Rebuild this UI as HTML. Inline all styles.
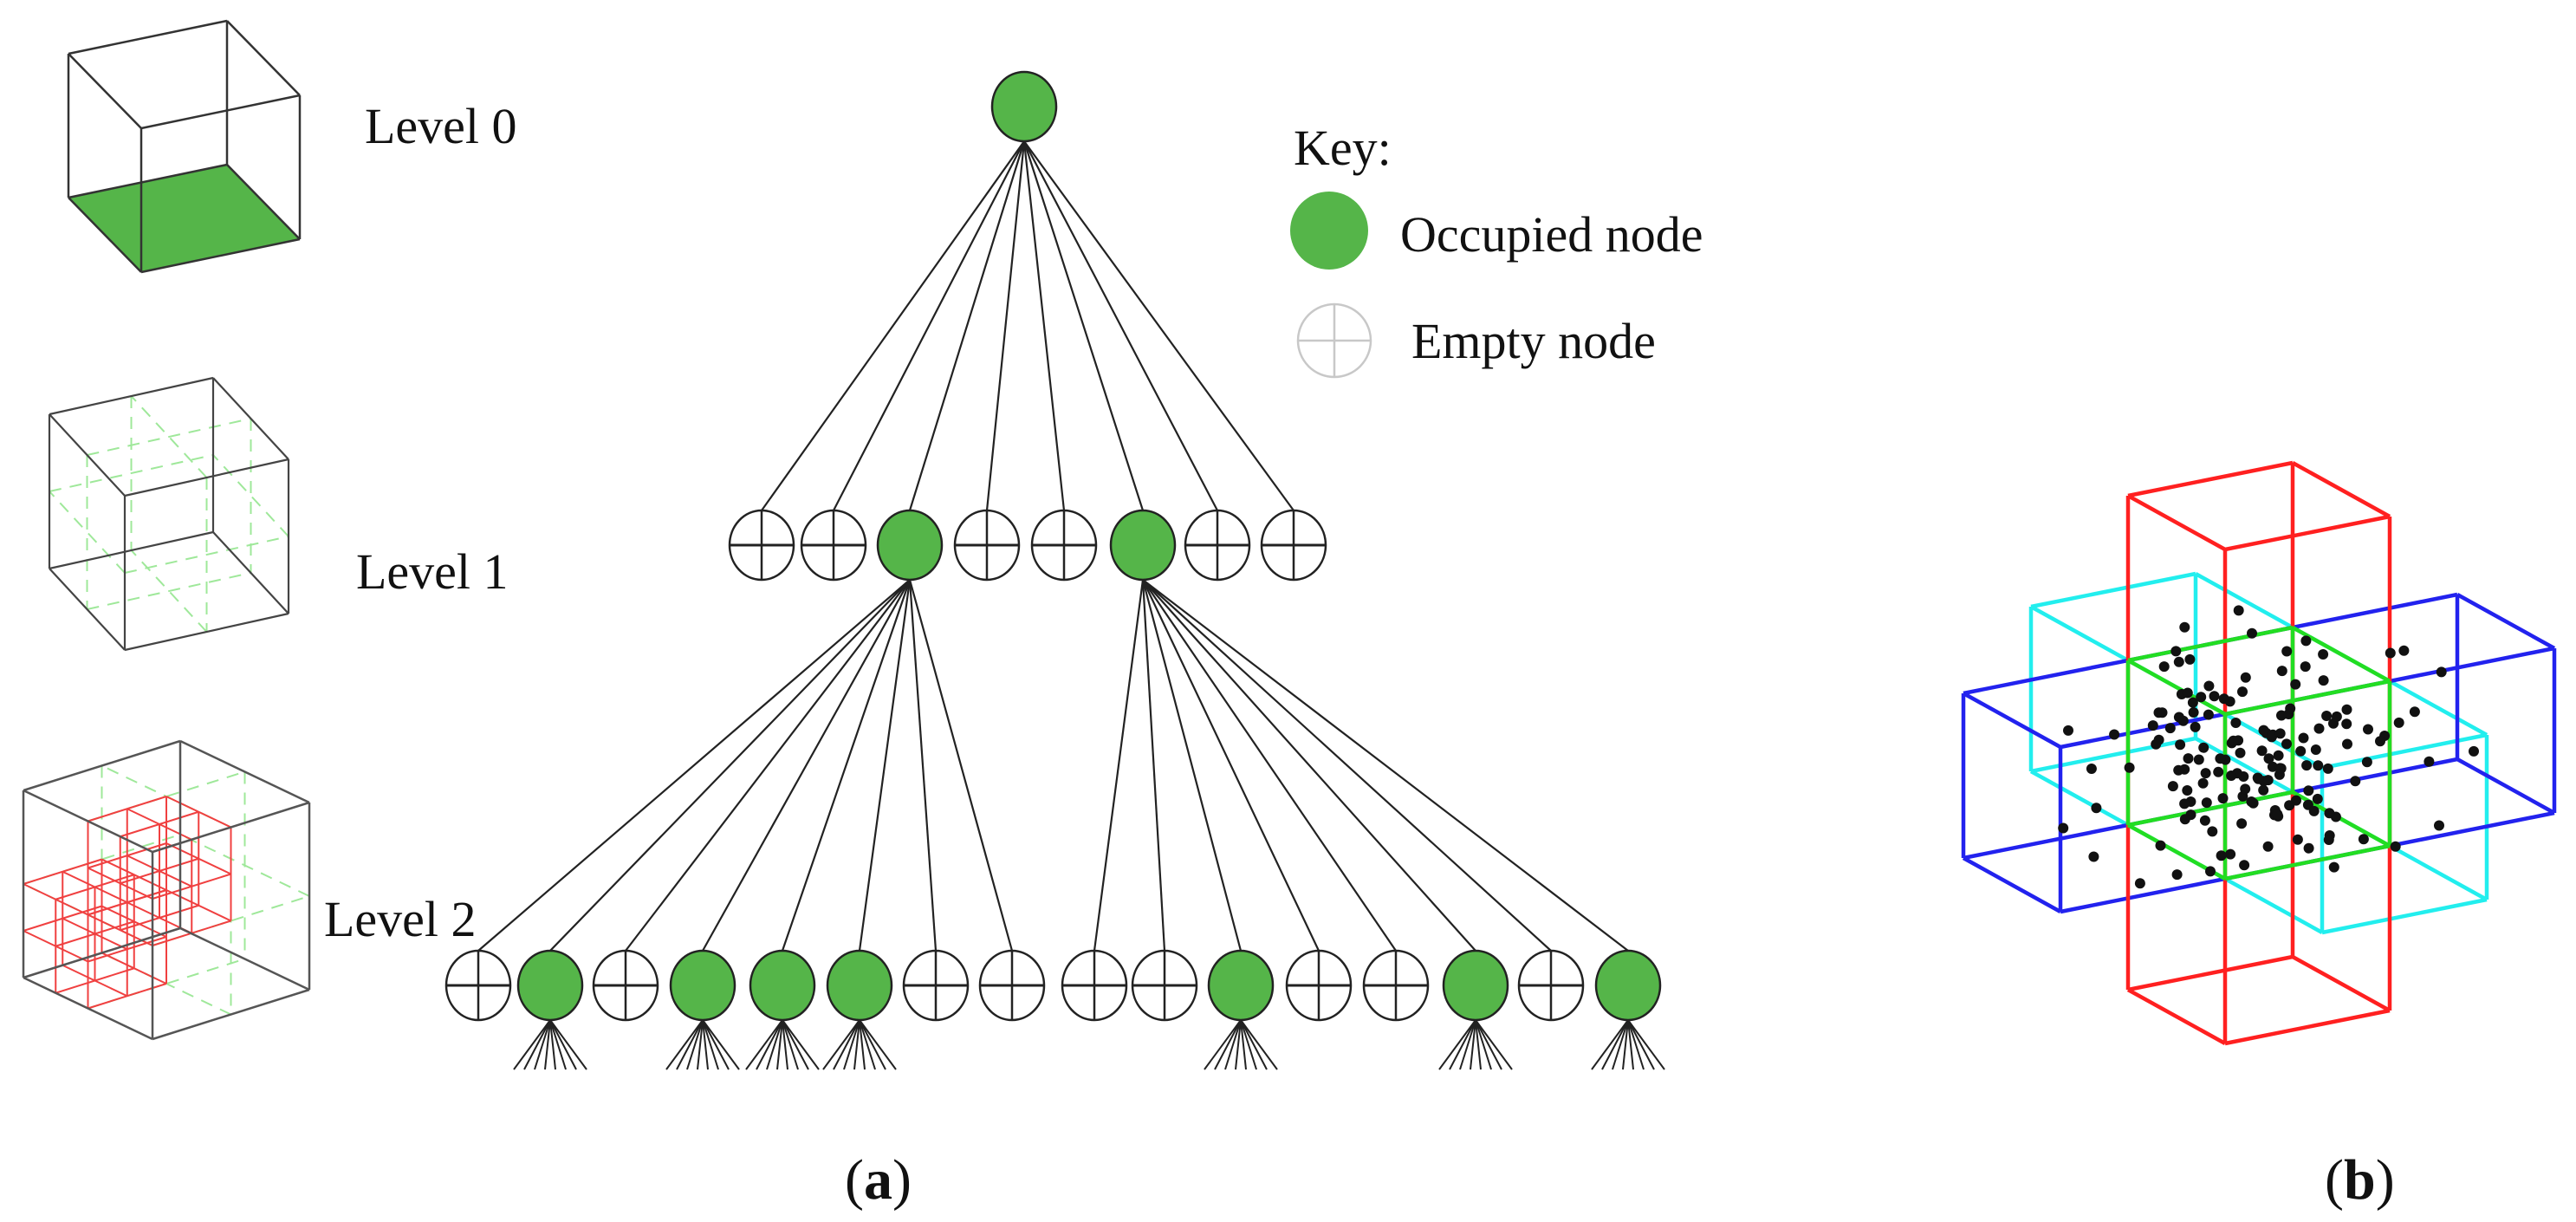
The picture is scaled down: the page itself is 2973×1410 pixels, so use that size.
<!DOCTYPE html>
<html><head><meta charset="utf-8"><style>
html,body{margin:0;padding:0;background:#fff;}
svg{display:block;}
text{font-family:"Liberation Serif",serif;fill:#111;}
</style></head><body>
<svg id="s" xmlns="http://www.w3.org/2000/svg" width="2973" height="1410" viewBox="0 0 2973 1410">
<rect width="2973" height="1410" fill="#fff"/>
<g id="g"></g>
<text x="421" y="165" font-size="58">Level 0</text>
<text x="411" y="679" font-size="58">Level 1</text>
<text x="374" y="1080" font-size="58">Level 2</text>
<text x="1493" y="190" font-size="58">Key:</text>
<circle cx="1534" cy="266" r="45" fill="#55b549"/>
<text x="1616" y="290" font-size="58">Occupied node</text>
<circle cx="1540" cy="393" r="42" fill="none" stroke="#c8c8c8" stroke-width="2.5"/>
<line x1="1498" y1="393" x2="1582" y2="393" stroke="#c8c8c8" stroke-width="2.5"/>
<line x1="1540" y1="351" x2="1540" y2="435" stroke="#c8c8c8" stroke-width="2.5"/>
<text x="1629" y="413" font-size="58">Empty node</text>
<text x="975" y="1383" font-size="66">(<tspan font-weight="bold">a</tspan>)</text>
<text x="2683" y="1383" font-size="66">(<tspan font-weight="bold">b</tspan>)</text>
</svg>
<script>
var g=document.getElementById('g');var h='';
function ln(a,b,c,d,s,w,da){h+='<line x1="'+a+'" y1="'+b+'" x2="'+c+'" y2="'+d+'" stroke="'+s+'" stroke-width="'+(w||2)+'"'+(da?' stroke-dasharray="'+da+'"':'')+'/>';}
function cube(F,L,R,D){
 return function(l,r,d){return [F[0]+l*L[0]+r*R[0]+d*D[0],F[1]+l*L[1]+r*R[1]+d*D[1]];};
}
function edges12(P,l0,l1,r0,r1,d0,d1,s,w,da){
 var L=[l0,l1],R=[r0,r1],D=[d0,d1];
 for(var i=0;i<2;i++)for(var j=0;j<2;j++){
  var a=P(L[0],R[i],D[j]),b=P(L[1],R[i],D[j]);ln(a[0],a[1],b[0],b[1],s,w,da);
  a=P(L[i],R[0],D[j]);b=P(L[i],R[1],D[j]);ln(a[0],a[1],b[0],b[1],s,w,da);
  a=P(L[i],R[j],D[0]);b=P(L[i],R[j],D[1]);ln(a[0],a[1],b[0],b[1],s,w,da);
 }
}
function mids(P,col){
 var v=[0,1];
 for(var i=0;i<2;i++){var x=v[i];
  var a,b;
  a=P(.5,x,0);b=P(.5,x,1);ln(a[0],a[1],b[0],b[1],col,2,'14,10');
  a=P(.5,0,x);b=P(.5,1,x);ln(a[0],a[1],b[0],b[1],col,2,'14,10');
  a=P(x,.5,0);b=P(x,.5,1);ln(a[0],a[1],b[0],b[1],col,2,'14,10');
  a=P(0,.5,x);b=P(1,.5,x);ln(a[0],a[1],b[0],b[1],col,2,'14,10');
  a=P(x,0,.5);b=P(x,1,.5);ln(a[0],a[1],b[0],b[1],col,2,'14,10');
  a=P(0,x,.5);b=P(1,x,.5);ln(a[0],a[1],b[0],b[1],col,2,'14,10');
 }
}
var P0=cube([163,148],[-84,-86],[183,-38],[0,166]);
var q=[P0(0,0,1),P0(1,0,1),P0(1,1,1),P0(0,1,1)];
h+='<polygon points="'+q.map(function(p){return p.join(',')}).join(' ')+'" fill="#55b549"/>';
edges12(P0,0,1,0,1,0,1,'#333',2.5);
var P1=cube([144,572],[-87,-94],[189,-42],[0,178]);
mids(P1,'#9fe89a');
edges12(P1,0,1,0,1,0,1,'#444',2.2);
var P2=cube([176,983],[-149,-71],[181,-57],[0,216]);
mids(P2,'#9fe89a');
function grid(P,l0,r0,d0,s){
 for(var i=0;i<3;i++)for(var j=0;j<3;j++){
  var a,b,u=i*s/2,v=j*s/2;
  a=P(l0,r0+u,d0+v);b=P(l0+s,r0+u,d0+v);ln(a[0],a[1],b[0],b[1],'#f04040',2);
  a=P(l0+u,r0,d0+v);b=P(l0+u,r0+s,d0+v);ln(a[0],a[1],b[0],b[1],'#f04040',2);
  a=P(l0+u,r0+v,d0);b=P(l0+u,r0+v,d0+s);ln(a[0],a[1],b[0],b[1],'#f04040',2);
 }
}
grid(P2,0,0,0,.5);grid(P2,.5,0,.5,.5);
edges12(P2,0,1,0,1,0,1,'#555',2.5);
var G='#55b549';
function node(x,y,full){
 if(full)h+='<ellipse cx="'+x+'" cy="'+y+'" rx="37" ry="40" fill="'+G+'" stroke="#222" stroke-width="2.5"/>';
 else{h+='<ellipse cx="'+x+'" cy="'+y+'" rx="37" ry="40" fill="#fff" stroke="#222" stroke-width="2.5"/>';
  ln(x-37,y,x+37,y,'#222',3);ln(x,y-40,x,y+40,'#222',2.5);}
}
var l1=[879,962,1050,1139,1228,1319,1405,1493],l1t=[0,0,1,0,0,1,0,0];
var l2=[552,635,722,811,903,992,1080,1168,1263,1344,1432,1522,1611,1703,1790,1879];
var l2t=[0,1,0,1,1,1,0,0,0,0,1,0,0,1,0,1];
l1.forEach(function(x){ln(1182,163,x,589,'#222',2.2);});
for(var i=0;i<16;i++){var px=i<8?1050:1319;ln(px,669,l2[i],1097,'#222',2.2);}
for(i=0;i<16;i++)if(l2t[i])for(var k=0;k<8;k++)ln(l2[i],1177,l2[i]-42+k*12,1234,'#222',2);
node(1182,123,1);
l1.forEach(function(x,i){node(x,629,l1t[i]);});
l2.forEach(function(x,i){node(x,1137,l2t[i]);});
function Q(i,j,k){return [2456+190*i+112*j,762-38*i+62*j+190*k];}
function box(i0,i1,j0,j1,k0,k1,c){edges12(function(l,r,d){return Q(l,r,d)},i0,i1,j0,j1,k0,k1,c,4.5);}
box(0,1,-1,2,0,1,'#22eeee');
box(-1,2,0,1,0,1,'#2222ee');
box(0,1,0,1,-1,2,'#ff2020');
box(0,1,0,1,0,1,'#22dd22');
var sd=12345;function rnd(){sd=(sd*1103515245+12345)%2147483648;return sd/2147483648;}
for(i=0;i<150;i++){
 var x=2600+(rnd()+rnd()+rnd()-1.5)*190,y=875+(rnd()+rnd()+rnd()-1.5)*120;
 h+='<circle cx="'+x.toFixed(1)+'" cy="'+y.toFixed(1)+'" r="6" fill="#111"/>';
}
g.innerHTML=h;
</script>
</body></html>
